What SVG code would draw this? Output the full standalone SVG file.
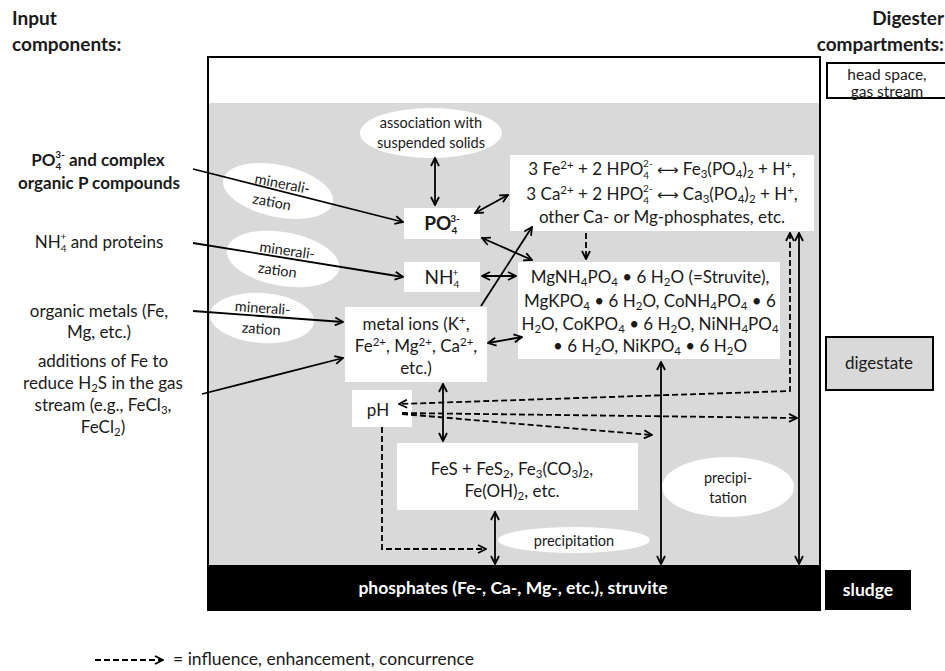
<svg xmlns="http://www.w3.org/2000/svg" width="945" height="671" viewBox="0 0 945 671">
<defs>
<style>
text{font-family:Lato,'Liberation Sans',sans-serif;fill:#1a1a1a}
.t{font-size:17px;text-anchor:middle}
.l{font-size:17px;text-anchor:middle}
.e{font-size:14.5px;text-anchor:middle}
.h{font-size:19px;font-weight:bold}
.b{font-weight:bold}
.w{fill:#fff}
.sub{font-size:11.5px;baseline-shift:-3px}
.sup{font-size:11.5px;baseline-shift:6px}
.ssub{font-size:10px;baseline-shift:-4px}
.ssup{font-size:10px;baseline-shift:8.2px}
.arr{font-family:'DejaVu Sans',sans-serif;font-size:15px}
.box{fill:#fff}
.ln{stroke:#000;stroke-width:1.8;fill:none}
.d{stroke-dasharray:6 3}
</style>
<marker id="a" viewBox="0 0 10 10" refX="9" refY="5" markerWidth="10" markerHeight="10" markerUnits="userSpaceOnUse" orient="auto-start-reverse"><path d="M1,1 L9,5 L1,9" fill="none" stroke="#000" stroke-width="1.8"/></marker>
</defs>
<rect width="945" height="671" fill="#fff"/>

<g id="headers">
<text class="h" x="12" y="25">Input</text>
<text class="h" x="12" y="51">components:</text>
<text class="h" x="944" y="25" text-anchor="end">Digester</text>
<text class="h" x="944" y="51" text-anchor="end">compartments:</text>
</g>

<g id="digester">
<rect x="208" y="57" width="612" height="553" fill="#fff" stroke="#000" stroke-width="2"/>
<rect x="209" y="103" width="610" height="462" fill="#d9d9d9"/>
<rect x="208" y="565" width="612" height="45" fill="#000"/>
<text class="b w" x="513" y="594" font-size="17.5" text-anchor="middle">phosphates (Fe-, Ca-, Mg-, etc.), struvite</text>
</g>

<g id="headspace">
<rect x="827" y="63" width="125" height="35" fill="#fff" stroke="#000" stroke-width="2"/>
<text x="887" y="80" font-size="15.5" text-anchor="middle">head space,</text>
<text x="887" y="97" font-size="15.5" text-anchor="middle">gas stream</text>
</g>
<g id="digestate">
<rect x="826" y="337" width="107" height="53" fill="#d9d9d9" stroke="#000" stroke-width="2"/>
<text class="t" x="879" y="369">digestate</text>
</g>
<g id="sludge">
<rect x="825" y="570" width="86" height="40" fill="#000"/>
<text class="b w" x="868" y="596" font-size="17.5" text-anchor="middle">sludge</text>
</g>

<g id="in-po4">
<text class="l b" x="98" y="166">PO<tspan class="ssub">4</tspan><tspan class="ssup" dx="-6">3-</tspan> and complex</text>
<text class="l b" x="99" y="189">organic P compounds</text>
</g>
<g id="in-nh4">
<text class="l" x="99" y="248">NH<tspan class="ssub">4</tspan><tspan class="ssup" dx="-6">+</tspan> and proteins</text>
</g>
<g id="in-metals">
<text class="l" x="99" y="317">organic metals (Fe,</text>
<text class="l" x="99" y="338">Mg, etc.)</text>
</g>
<g id="in-fe">
<text class="l" x="103" y="367">additions of Fe to</text>
<text class="l" x="103" y="389">reduce H<tspan class="sub">2</tspan>S in the gas</text>
<text class="l" x="103" y="411">stream (e.g., FeCl<tspan class="sub">3</tspan>,</text>
<text class="l" x="103" y="433">FeCl<tspan class="sub">2</tspan>)</text>
</g>

<g id="assoc">
<ellipse cx="431" cy="133" rx="71" ry="25" fill="#fff"/>
<text class="e" x="431" y="128">association with</text>
<text class="e" x="431" y="148">suspended solids</text>
</g>
<g id="min1">
<ellipse cx="278" cy="191" rx="56" ry="26" fill="#fff" transform="rotate(12 278 191)"/>
<g transform="rotate(11 278 191)">
<text class="e" x="281" y="188" font-size="15">minerali-</text>
<text class="e" x="274" y="208" font-size="15">zation</text>
</g>
</g>
<g id="min2">
<ellipse cx="283" cy="259" rx="57" ry="27" fill="#fff" transform="rotate(10 283 259)"/>
<g transform="rotate(8 283 259)">
<text class="e" x="286" y="255" font-size="15">minerali-</text>
<text class="e" x="279" y="276" font-size="15">zation</text>
</g>
</g>
<g id="min3">
<ellipse cx="262" cy="318" rx="52" ry="25" fill="#fff" transform="rotate(4 262 318)"/>
<g transform="rotate(4 262 318)">
<text class="e" x="262" y="313" font-size="15">minerali-</text>
<text class="e" x="262" y="334" font-size="15">zation</text>
</g>
</g>

<g id="po4">
<rect class="box" x="404" y="208" width="76" height="31"/>
<text class="b" x="442" y="230" font-size="19" text-anchor="middle">PO<tspan class="ssub" font-size="12">4</tspan><tspan class="ssup" font-size="12" dx="-7">3-</tspan></text>
</g>
<g id="nh4">
<rect class="box" x="404" y="262" width="76" height="30"/>
<text x="442" y="284" font-size="19" text-anchor="middle">NH<tspan class="ssub" font-size="12">4</tspan><tspan class="ssup" font-size="12" dx="-7">+</tspan></text>
</g>
<g id="metal">
<rect class="box" x="345" y="307" width="142" height="75"/>
<text class="t" x="416" y="330">metal ions (K<tspan class="sup">+</tspan>,</text>
<text class="t" x="416" y="352">Fe<tspan class="sup">2+</tspan>, Mg<tspan class="sup">2+</tspan>, Ca<tspan class="sup">2+</tspan>,</text>
<text class="t" x="416" y="374">etc.)</text>
</g>
<g id="ph">
<rect class="box" x="352" y="390" width="60" height="37"/>
<text class="t" x="378" y="416">pH</text>
</g>
<g id="fes">
<rect class="box" x="397" y="443" width="241" height="67"/>
<text class="t" x="512" y="475">FeS + FeS<tspan class="sub">2</tspan>, Fe<tspan class="sub">3</tspan>(CO<tspan class="sub">3</tspan>)<tspan class="sub">2</tspan>,</text>
<text class="t" x="512" y="497">Fe(OH)<tspan class="sub">2</tspan>, etc.</text>
</g>
<g id="reactions">
<rect class="box" x="510" y="155" width="304" height="76"/>
<text class="t" x="662" y="175">3 Fe<tspan class="sup">2+</tspan> + 2 HPO<tspan class="ssub">4</tspan><tspan class="ssup" dx="-6">2-</tspan> <tspan class="arr">⟷</tspan> Fe<tspan class="sub">3</tspan>(PO<tspan class="sub">4</tspan>)<tspan class="sub">2</tspan> + H<tspan class="sup">+</tspan>,</text>
<text class="t" x="662" y="199.5">3 Ca<tspan class="sup">2+</tspan> + 2 HPO<tspan class="ssub">4</tspan><tspan class="ssup" dx="-6">2-</tspan> <tspan class="arr">⟷</tspan> Ca<tspan class="sub">3</tspan>(PO<tspan class="sub">4</tspan>)<tspan class="sub">2</tspan> + H<tspan class="sup">+</tspan>,</text>
<text class="t" x="662" y="222.5">other Ca- or Mg-phosphates, etc.</text>
</g>
<g id="struvite">
<rect class="box" x="518" y="262" width="262" height="97"/>
<text class="t" x="650" y="283">MgNH<tspan class="sub">4</tspan>PO<tspan class="sub">4</tspan> • 6 H<tspan class="sub">2</tspan>O (=Struvite),</text>
<text class="t" x="650" y="307">MgKPO<tspan class="sub">4</tspan> • 6 H<tspan class="sub">2</tspan>O, CoNH<tspan class="sub">4</tspan>PO<tspan class="sub">4</tspan> • 6</text>
<text class="t" x="650" y="330">H<tspan class="sub">2</tspan>O, CoKPO<tspan class="sub">4</tspan> • 6 H<tspan class="sub">2</tspan>O, NiNH<tspan class="sub">4</tspan>PO<tspan class="sub">4</tspan></text>
<text class="t" x="650" y="352">• 6 H<tspan class="sub">2</tspan>O, NiKPO<tspan class="sub">4</tspan> • 6 H<tspan class="sub">2</tspan>O</text>
</g>
<g id="precip1">
<ellipse cx="574" cy="540" rx="76" ry="13" fill="#fff"/>
<text class="e" x="574" y="546" font-size="16">precipitation</text>
</g>
<g id="precip2">
<ellipse cx="728" cy="487" rx="66" ry="30" fill="#fff"/>
<text class="e" x="728" y="483" font-size="15.5">precipi-</text>
<text class="e" x="728" y="503" font-size="15.5">tation</text>
</g>

<g id="connectors" class="ln">
<line x1="193" y1="169" x2="403" y2="222" marker-end="url(#a)"/>
<line x1="193" y1="243" x2="403" y2="277" marker-end="url(#a)"/>
<line x1="193" y1="311" x2="343" y2="322" marker-end="url(#a)"/>
<line x1="202" y1="394" x2="343" y2="358" marker-end="url(#a)"/>
<line x1="435" y1="158" x2="435" y2="205" marker-start="url(#a)" marker-end="url(#a)"/>
<line x1="475" y1="213" x2="508" y2="195" marker-start="url(#a)" marker-end="url(#a)"/>
<line x1="481" y1="306" x2="532" y2="227" marker-end="url(#a)"/>
<line x1="482" y1="238" x2="532" y2="260" marker-start="url(#a)" marker-end="url(#a)"/>
<line x1="482" y1="276" x2="516" y2="276" marker-start="url(#a)" marker-end="url(#a)"/>
<line x1="488" y1="343" x2="522" y2="337" marker-start="url(#a)" marker-end="url(#a)"/>
<line x1="661" y1="362" x2="661" y2="564" marker-start="url(#a)" marker-end="url(#a)"/>
<line x1="799" y1="233" x2="799" y2="564" marker-start="url(#a)" marker-end="url(#a)"/>
<line x1="443" y1="384" x2="443" y2="441" marker-start="url(#a)" marker-end="url(#a)"/>
<line x1="495" y1="512" x2="495" y2="564" marker-start="url(#a)" marker-end="url(#a)"/>
<line class="d" x1="586" y1="233" x2="586" y2="259" marker-end="url(#a)"/>
<path class="d" d="M790,233 L790,391 L399,404" marker-start="url(#a)" marker-end="url(#a)"/>
<line class="d" x1="402" y1="413" x2="797" y2="418" marker-end="url(#a)"/>
<line class="d" x1="402" y1="414" x2="652" y2="435" marker-end="url(#a)"/>
<path class="d" d="M382,427 L382,549 L486,549" marker-end="url(#a)"/>
</g>

<g id="legend">
<line class="ln d" x1="95" y1="660" x2="163" y2="660" marker-end="url(#a)"/>
<text x="173" y="665" font-size="17.5">= influence, enhancement, concurrence</text>
</g>
</svg>
